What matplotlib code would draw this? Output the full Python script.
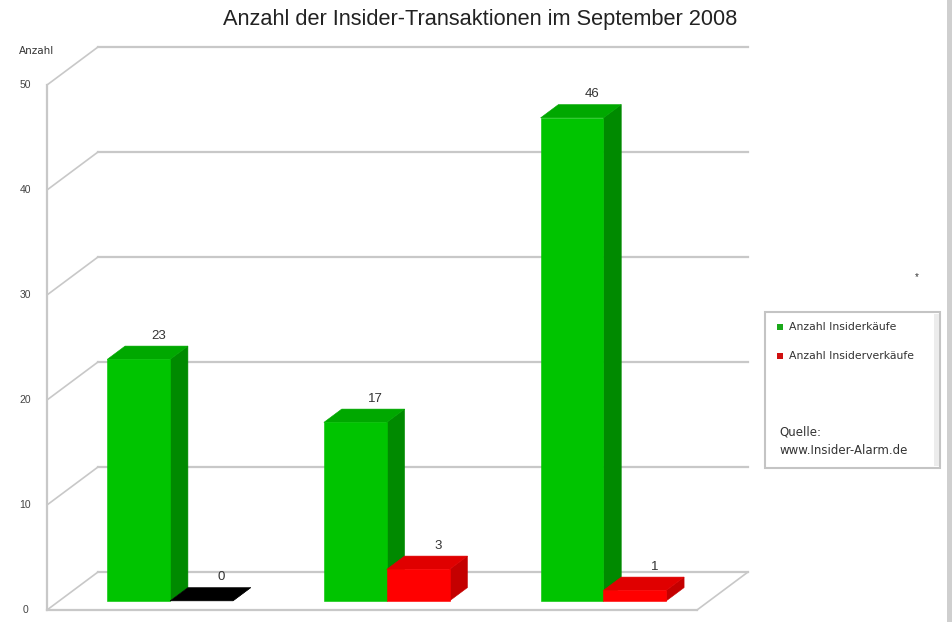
# 3D-style grouped bar chart - insider transactions September 2008
import matplotlib
matplotlib.use("Agg")
import matplotlib.pyplot as plt
from matplotlib.patches import Polygon, Rectangle

plt.rcParams['font.family'] = ['Liberation Sans', 'DejaVu Sans']

# data
months = ["Juli", "August", "September"]
kaeufe = [23, 17, 46]
verkaeufe = [0, 3, 1]
yticks = [0, 10, 20, 30, 40, 50]

# colours (front, side, top)
green = ('#00c400', '#008a00', '#00a800')
red = ('#ff0000', '#c40000', '#e00000')
black = ('#000000', '#000000', '#000000')
gridc = '#c8c8c8'

fig = plt.figure(figsize=(9.52, 6.22), dpi=100)
fig.patch.set_facecolor('white')

# axes = front plane of the 3d box
ax = fig.add_axes([47 / 952, 12 / 622, 650 / 952, 525 / 622])
ax.set_xlim(0, len(months))
ax.set_ylim(0, 50)
ax.axis('off')

# depth of the box in data units
ddx = 51 / 650 * len(months)
ddy = 38 / 10.5

# back wall grid + side diagonals
for t in yticks:
    ax.plot([ddx, len(months) + ddx], [t + ddy, t + ddy], color=gridc, lw=1.6, clip_on=False, zorder=1)
    ax.plot([0, ddx], [t, t + ddy], color=gridc, lw=1.2, clip_on=False, zorder=1)
    ax.text(-0.1, t, str(t), ha='center', va='center', fontsize=7.5, color='#444444')

# front axis line and floor
ax.plot([0, 0], [0, 50], color=gridc, lw=1.6, clip_on=False, zorder=1)
ax.plot([0, len(months)], [0, 0], color=gridc, lw=1.6, clip_on=False, zorder=1)
ax.plot([len(months), len(months) + ddx], [0, ddy], color=gridc, lw=1.2, clip_on=False, zorder=1)

# bars sit a little behind the front plane
f0 = 0.24
f1 = 0.35
bw = 0.29
ox, oy = f0 * ddx, f0 * ddy
bx, by = f1 * ddx, f1 * ddy


def bar3d(x0, val, cols, z):
    xa, xb = x0 + ox, x0 + ox + bw
    y0, y1 = oy, oy + val
    kw = dict(clip_on=False, zorder=z, lw=0.4)
    # side
    ax.add_patch(Polygon([(xb, y0), (xb + bx, y0 + by), (xb + bx, y1 + by), (xb, y1)],
                         fc=cols[1], ec=cols[1], **kw))
    # top
    ax.add_patch(Polygon([(xa, y1), (xb, y1), (xb + bx, y1 + by), (xa + bx, y1 + by)],
                         fc=cols[2], ec=cols[2], **kw))
    # front
    if val > 0:
        ax.add_patch(Polygon([(xa, y0), (xb, y0), (xb, y1), (xa, y1)],
                             fc=cols[0], ec=cols[0], **kw))
    ax.text(xa + bw / 2 + bx + 0.01, y1 + by + 0.4, str(val), ha='center', va='bottom',
            fontsize=9.5, color='#333333', zorder=z + 1)


for i in range(len(months)):
    start = i + 0.2215
    bar3d(start, kaeufe[i], green, 3 + 2 * i)
    bar3d(start + bw, verkaeufe[i], red if verkaeufe[i] > 0 else black, 4 + 2 * i)

# title and labels
W, H = 952, 622
fig.text(480 / W, 1 - 20 / H, "Anzahl der Insider-Transaktionen im September 2008",
         ha='center', va='center', fontsize=15.7, color='#222222')
fig.text(37 / W, 1 - 51 / H, "Anzahl", ha='center', va='center', fontsize=7.5, color='#333333',
         family='DejaVu Sans')
fig.text(917 / W, 1 - 277 / H, "*", ha='center', va='center', fontsize=7, color='#333333')

# legend box
fig.patches.append(Rectangle((765 / W, 1 - 468 / H), 175 / W, 156 / H, transform=fig.transFigure,
                             fc='white', ec='#c4c4c4', lw=1.5))
fig.patches.append(Rectangle((934 / W, 1 - 466 / H), 5 / W, 152 / H, transform=fig.transFigure,
                             fc='#ececec', ec='none'))
fig.patches.append(Rectangle((947 / W, 0), 5 / W, 1, transform=fig.transFigure,
                             fc='#cfcfcf', ec='none'))
fig.patches.append(Rectangle((777 / W, 1 - 330 / H), 6 / W, 6 / H, transform=fig.transFigure,
                             fc='#1aa81a', ec='none'))
fig.patches.append(Rectangle((777 / W, 1 - 359 / H), 6 / W, 6 / H, transform=fig.transFigure,
                             fc='#d01010', ec='none'))
fig.text(789 / W, 1 - 327 / H, "Anzahl Insiderkäufe", va='center', fontsize=7.8, color='#333333',
         family='DejaVu Sans')
fig.text(789 / W, 1 - 356 / H, "Anzahl Insiderverkäufe", va='center', fontsize=7.8, color='#333333',
         family='DejaVu Sans')
fig.text(779 / W, 1 - 432 / H, "Quelle:", va='center', fontsize=8.5, color='#333333',
         family='DejaVu Sans')
fig.text(779 / W, 1 - 451 / H, "www.Insider-Alarm.de", va='center', fontsize=8.5, color='#333333',
         family='DejaVu Sans')

plt.savefig('out.png', dpi=100)
